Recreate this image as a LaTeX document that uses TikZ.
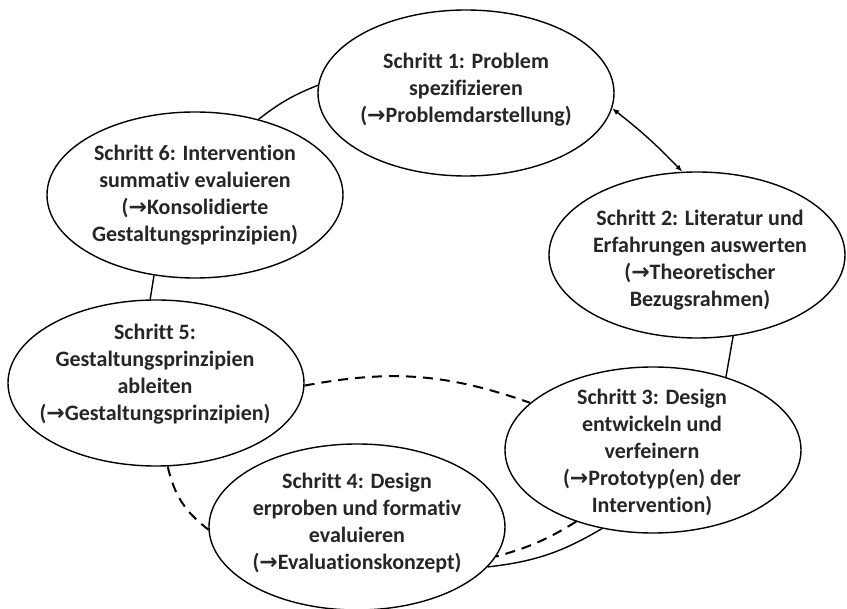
\documentclass[tikz,border=0pt]{standalone}
\usepackage{fontspec}
\setmainfont{Carlito}[Ligatures=NoCommon]
\newfontfamily\arrfont{DejaVu Sans}
\usetikzlibrary{arrows.meta,shapes.geometric}
\definecolor{txtgray}{HTML}{262626}
\newcommand{\ra}{{\arrfont →}}
\begin{document}
\begin{tikzpicture}[x=1pt,y=1pt,
  stepbox/.style={ellipse, draw, line width=1.4pt, fill=white, minimum width=296pt, minimum height=166pt, inner sep=0pt},
  txt/.style={align=center, font=\fontsize{22}{27}\selectfont\bfseries, text=txtgray, inner sep=0pt},
  conn/.style={line width=1.4pt},
  dconn/.style={line width=2pt, dash pattern=on 10pt off 7pt},
  tip/.style={{Latex[length=7pt,width=5.5pt]}-{Latex[length=7pt,width=5.5pt]}}
]
\useasboundingbox (0,0) rectangle (847,-609);
\node[stepbox] (s1) at (466,-93) {};
\node[stepbox] (s2) at (697,-255) {};
\node[stepbox] (s3) at (653,-450) {};
\node[stepbox] (s4) at (357,-527) {};
\node[stepbox] (s5) at (156,-383) {};
\node[stepbox] (s6) at (195,-195) {};

\draw[conn] (s1.177) to[bend right=8] (s6.50);
\draw[conn] (s6.243) -- (s5.94);
\draw[conn] (s2.-66.6) -- (s3.45.4);
\draw[conn] (s3.237) to[bend left=12] (s4.-17);
\draw[dconn] (s3.223.5) to[bend left=8] (s4.-12.7);
\draw[dconn] (s5.-1) to[bend left=15] (s3.159);
\draw[dconn] (s5.-82) to[bend right=20] (s4.181);
\draw[conn, tip] (s1.-6.6) to[bend left=4] (s2.100);

\node[txt] (t1) at (466,-90) {Schritt 1: Problem\\spezifizieren\\(\ra Problemdarstellung)};
\node[txt] (t2) at (700,-260) {Schritt 2: Literatur und\\Erfahrungen auswerten\\(\ra Theoretischer\\Bezugsrahmen)};
\node[txt] (t3) at (652,-452) {Schritt 3: Design\\entwickeln und\\verfeinern\\(\ra Prototyp(en) der\\Intervention)};
\node[txt] (t4) at (357,-523) {Schritt 4: Design\\erproben und formativ\\evaluieren\\(\ra Evaluationskonzept)};
\node[txt] (t5) at (155,-374) {Schritt 5:\\Gestaltungsprinzipien\\ableiten\\(\ra Gestaltungsprinzipien)};
\node[txt] (t6) at (195,-195) {Schritt 6: Intervention\\summativ evaluieren\\(\ra Konsolidierte\\Gestaltungsprinzipien)};
\end{tikzpicture}
\end{document}
